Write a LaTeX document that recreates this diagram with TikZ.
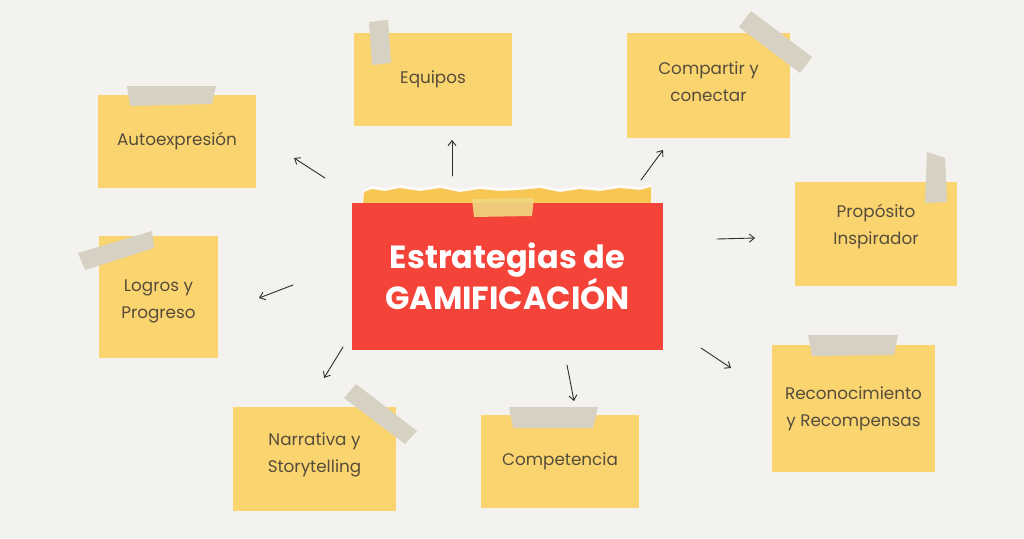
\documentclass[tikz,border=0pt]{standalone}
\usepackage{fontspec}
\setmainfont{Poppins}
\usetikzlibrary{arrows.meta}
\definecolor{bg}{HTML}{F4F2EE}
\definecolor{notecol}{HTML}{FAD46E}
\definecolor{redbox}{HTML}{F4443A}
\definecolor{tapecol}{HTML}{D6D1C3}
\definecolor{notetext}{HTML}{564C3C}
\definecolor{stripcol}{HTML}{F8C652}
\definecolor{ctape}{HTML}{F0D782}
\definecolor{arrowc}{HTML}{2E2E2E}
\begin{document}
\begin{tikzpicture}[x=1pt,y=-1pt,
  notetxt/.style={text=notetext, align=center,
    font=\fontsize{16.8}{27}\selectfont, inner sep=0pt},
  note/.style={fill=notecol, draw=none, notetxt},
  tapeshape/.style={fill=tapecol, draw=none},
  arr/.style={draw=arrowc, line width=0.9pt, line cap=round,
    -{Straight Barb[length=5pt,width=8pt]}}]
\useasboundingbox[fill=bg] (0,0) rectangle (1024,538);

% sticky notes
\node[note, minimum width=158, minimum height=93] (equipos) at (433,79.5) {Equipos};
\node[note, minimum width=163, minimum height=105,
  label={[notetxt, yshift=4pt]center:Compartir y\\conectar}] (compartir) at (708.5,85.5) {};
\node[note, minimum width=158, minimum height=93] (autoexp) at (177,141.5) {Autoexpresión};
\node[note, minimum width=162, minimum height=104,
  label={[notetxt, yshift=7pt]center:Propósito\\Inspirador}] (proposito) at (876,234) {};
\node[note, minimum width=119, minimum height=122,
  label={[notetxt, yshift=-4pt]center:Logros y\\Progreso}] (logros) at (158.5,297) {};
\node[note, minimum width=163, minimum height=127] (recon) at (853.5,408.5) {Reconocimiento\\y Recompensas};
\node[note, minimum width=163, minimum height=104,
  label={[notetxt, yshift=4pt]center:Narrativa y\\Storytelling}] (narrativa) at (314.5,459) {};
\node[note, minimum width=158, minimum height=93] (competencia) at (560,461.5) {Competencia};

% tapes on the notes
\fill[tapeshape] (369,22) -- (388,20) -- (391,63) -- (372,65) -- cycle;
\fill[tapeshape] (751,11) -- (739,27) -- (800,73) -- (812,57) -- cycle;
\fill[tapeshape] (127,86) -- (216,86) -- (212,104) -- (130,106) -- cycle;
\fill[tapeshape] (927,152) -- (945,158) -- (947,202) -- (925,203) -- cycle;
\fill[tapeshape] (78,253) -- (152,231) -- (154,248) -- (85,270) -- cycle;
\fill[tapeshape] (808,335) -- (898,335) -- (894,355) -- (812,356) -- cycle;
\fill[tapeshape] (344,398) -- (356,384) -- (417,431) -- (405,444) -- cycle;
\fill[tapeshape] (509,407) -- (598,407) -- (593,428) -- (513,428) -- cycle;

% torn strip behind the central card
\fill[white!70!bg] (362,205) -- (363,190) -- (372,186) -- (385,188) -- (400,185) -- (420,188)
  -- (440,185) -- (460,189) -- (480,186) -- (500,188) -- (520,187) -- (540,185)
  -- (560,189) -- (580,186) -- (600,188) -- (620,185) -- (640,187) -- (652,184)
  -- (652,205) -- cycle;
\fill[stripcol] (363,205) -- (364,192) -- (372,189) -- (385,191) -- (400,188) -- (420,191)
  -- (440,188) -- (460,192) -- (480,189) -- (500,191) -- (520,190) -- (540,188)
  -- (560,192) -- (580,189) -- (600,191) -- (620,188) -- (640,190) -- (651,187)
  -- (651,205) -- cycle;

% central card
\node[fill=redbox, minimum width=311, minimum height=147, inner sep=0pt,
  text=white, align=center, font=\bfseries\fontsize{32}{40}\selectfont]
  (center) at (507.5,276.5) {Estrategias de\\GAMIFICACIÓN};
\fill[ctape, opacity=0.9] (472,199) -- (534,198) -- (532,216) -- (474,217) -- cycle;

% arrows
\coordinate (s1) at (452,176); \coordinate (e1) at (452,140);
\coordinate (s2) at (641,180); \coordinate (e2) at (663,150);
\coordinate (s3) at (325,178); \coordinate (e3) at (294,158);
\coordinate (s4) at (717,239); \coordinate (e4) at (755,238);
\coordinate (s5) at (293,285); \coordinate (e5) at (259,298);
\coordinate (s6) at (701,348); \coordinate (e6) at (731,368);
\coordinate (s7) at (343,347); \coordinate (e7) at (324,378);
\coordinate (s8) at (567,365); \coordinate (e8) at (574,401);
\draw[arr] (s1) -- (e1);
\draw[arr] (s2) -- (e2);
\draw[arr] (s3) -- (e3);
\draw[arr] (s4) -- (e4);
\draw[arr] (s5) -- (e5);
\draw[arr] (s6) -- (e6);
\draw[arr] (s7) -- (e7);
\draw[arr] (s8) -- (e8);
\end{tikzpicture}
\end{document}
